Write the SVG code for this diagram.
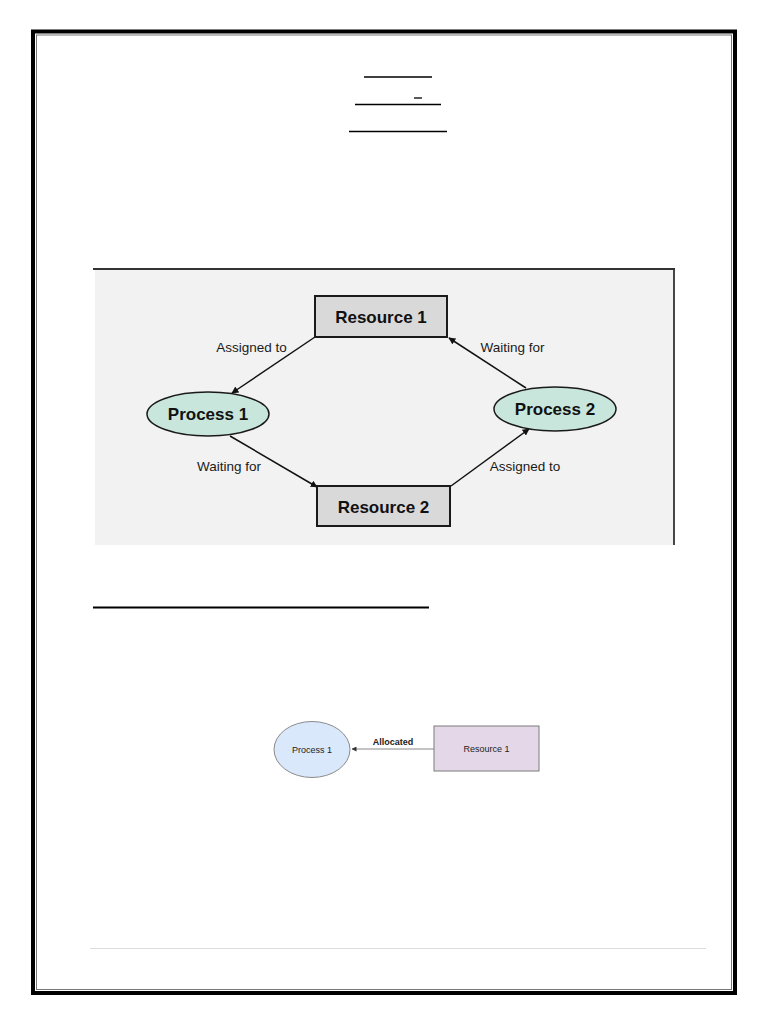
<svg xmlns="http://www.w3.org/2000/svg" width="768" height="1024" viewBox="0 0 768 1024">
<style>
.lbl{font-family:"Liberation Sans",Arial,sans-serif;font-size:13.5px;fill:#1a1a1a;text-anchor:middle}
.big{font-family:"Liberation Sans",Arial,sans-serif;font-size:17px;font-weight:bold;fill:#111;text-anchor:middle;dominant-baseline:central}
.sm{font-family:"Liberation Sans",Arial,sans-serif;font-size:9px;fill:#222;text-anchor:middle;dominant-baseline:central}
.res{fill:#d9d9d9;stroke:#1a1a1a;stroke-width:2}
.proc{fill:#c8e6dc;stroke:#1a1a1a;stroke-width:1.5}
.edge{stroke:#111;stroke-width:1.5;fill:none;marker-end:url(#ah)}
</style>
<defs>
<marker id="ah" viewBox="0 0 10 10" refX="9" refY="5" markerWidth="7" markerHeight="7" orient="auto" markerUnits="userSpaceOnUse">
<path d="M0,0 L10,5 L0,10 z" fill="#111"/>
</marker>
<marker id="ah2" viewBox="0 0 10 10" refX="9" refY="5" markerWidth="5" markerHeight="5" orient="auto" markerUnits="userSpaceOnUse">
<path d="M0,0 L10,5 L0,10 z" fill="#333"/>
</marker>
</defs>
<rect width="768" height="1024" fill="#fff"/>
<!-- page border -->
<rect x="33" y="31.5" width="702" height="961.5" fill="none" stroke="#000" stroke-width="4"/>
<rect x="36.5" y="35" width="695" height="954.5" fill="none" stroke="#777" stroke-width="1"/>
<!-- heading underlines -->
<g stroke="#000" stroke-width="1.3">
<line x1="364" y1="77" x2="432" y2="77"/>
<line x1="414" y1="98" x2="422" y2="98"/>
<line x1="355" y1="104.5" x2="441" y2="104.5"/>
<line x1="349" y1="131.5" x2="447" y2="131.5"/>
<line x1="93" y1="607.5" x2="429" y2="607.5" stroke-width="1.8"/>
</g>
<line x1="90" y1="948.5" x2="706" y2="948.5" stroke="#ddd" stroke-width="1"/>
<!-- figure 1 background -->
<rect x="95" y="270" width="579" height="275" fill="#f2f2f2"/>
<line x1="93" y1="269" x2="675" y2="269" stroke="#333" stroke-width="1.8"/>
<line x1="674" y1="269" x2="674" y2="545" stroke="#333" stroke-width="1.8"/>
<g id="connectors">
<line class="edge" x1="315" y1="337" x2="232" y2="393"/>
<line class="edge" x1="230" y1="436" x2="317" y2="487"/>
<line class="edge" x1="451" y1="486" x2="529" y2="429"/>
<line class="edge" x1="526" y1="388" x2="449" y2="338"/>
<text class="lbl" x="251.5" y="352">Assigned to</text>
<text class="lbl" x="512.5" y="352">Waiting for</text>
<text class="lbl" x="229" y="471">Waiting for</text>
<text class="lbl" x="525" y="471">Assigned to</text>
<line x1="434" y1="749" x2="352" y2="749" stroke="#888" stroke-width="1" marker-end="url(#ah2)"/>
<text class="sm" x="393" y="742" font-weight="bold">Allocated</text>
</g>
<g id="resource1">
<rect class="res" x="315" y="296" width="132" height="41"/>
<text class="big" x="381" y="317">Resource 1</text>
</g>
<g id="resource2">
<rect class="res" x="317" y="486" width="133" height="40"/>
<text class="big" x="383.5" y="507">Resource 2</text>
</g>
<g id="process1">
<ellipse class="proc" cx="208" cy="414" rx="61" ry="22"/>
<text class="big" x="208" y="414">Process 1</text>
</g>
<g id="process2">
<ellipse class="proc" cx="555" cy="409" rx="61" ry="22"/>
<text class="big" x="555" y="409">Process 2</text>
</g>
<g id="small-process1">
<ellipse cx="312" cy="749.5" rx="38" ry="28" fill="#dae8fc" stroke="#8a8a8a" stroke-width="1"/>
<text class="sm" x="312" y="749.5">Process 1</text>
</g>
<g id="small-resource1">
<rect x="434" y="726" width="105" height="45" fill="#e4d8e8" stroke="#7a7a7a" stroke-width="1"/>
<text class="sm" x="486.5" y="748.5">Resource 1</text>
</g>
</svg>
